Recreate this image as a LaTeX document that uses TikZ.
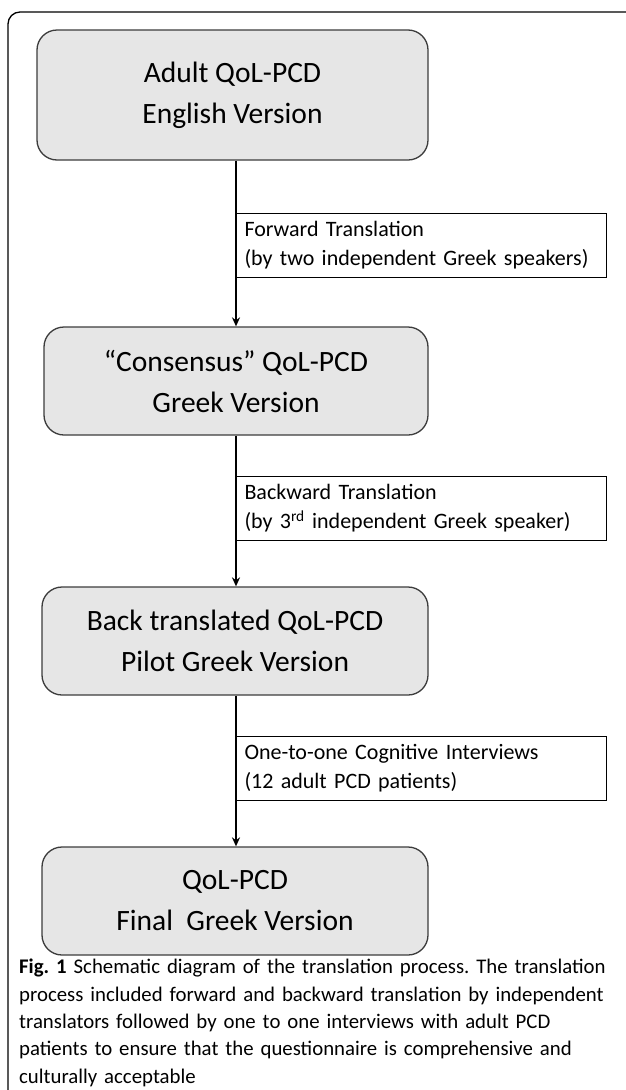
\documentclass[tikz,border=0pt]{standalone}
\usepackage{fontspec}
\setmainfont{Carlito}
\usetikzlibrary{arrows.meta}
\definecolor{boxfill}{RGB}{230,230,230}
\definecolor{boxline}{RGB}{60,60,60}
\frenchspacing
\begin{document}
\frenchspacing
\begin{tikzpicture}[x=1pt,y=-1pt,
  procbox/.style={draw=boxline, line width=1.3pt, fill=boxfill, rounded corners=20pt,
    align=center, font=\fontsize{29.5}{41}\selectfont, inner sep=0pt},
  notebox/.style={draw=black, line width=1pt, fill=white, align=left, anchor=west,
    font=\fontsize{22}{29}\selectfont, inner xsep=8pt, inner ysep=0pt,
    text width=354pt, minimum height=64pt},
  flow/.style={-{Stealth[length=9pt,width=8pt]}, line width=1.6pt},
  frame/.style={draw=black, line width=1.3pt, rounded corners=12pt}
]
\useasboundingbox (0,0) rectangle (625,1090);
\draw[frame] (8,12) rectangle (645,1110);

\node[procbox, minimum width=391pt, minimum height=130pt] (b1) at (232.5,95)
  {Adult QoL-PCD\\English Version};
\node[procbox, minimum width=384pt, minimum height=108pt] (b2) at (236,381)
  {“Consensus” QoL-PCD\\Greek Version};
\node[procbox, minimum width=386pt, minimum height=108pt] (b3) at (235,641)
  {Back translated QoL-PCD\\Pilot Greek Version};
\node[procbox, minimum width=386pt, minimum height=108pt] (b4) at (235,901)
  {QoL-PCD\\Final\ \ Greek Version};

\node[notebox] (n1) at (236,245)
  {\hbox{Forward Translation}\\\hbox{(by two independent Greek speakers)}};
\node[notebox] (n2) at (236,508.5)
  {\hbox{Backward Translation}\\\hbox{(by 3\textsuperscript{rd} independent Greek speaker)}};
\node[notebox] (n3) at (236,768)
  {\hbox{One-to-one Cognitive Interviews}\\\hbox{(12 adult PCD patients)}};

\draw[flow] (b1.south -| n1.west) -- (b2.north -| n1.west);
\draw[flow] (b2.south -| n2.west) -- (b3.north -| n2.west);
\draw[flow] (b3.south -| n3.west) -- (b4.north -| n3.west);

\node[anchor=north west, align=left, inner sep=0pt, text width=604pt,
  font=\fontsize{20.8}{27.3}\selectfont] (cap) at (19,959)
  {\textbf{Fig. 1} Schematic diagram of the translation process. The translation\\
   process included forward and backward translation by independent\\
   translators followed by one to one interviews with adult PCD\\
   patients to ensure that the questionnaire is comprehensive and\\
   culturally acceptable};
\end{tikzpicture}
\end{document}
